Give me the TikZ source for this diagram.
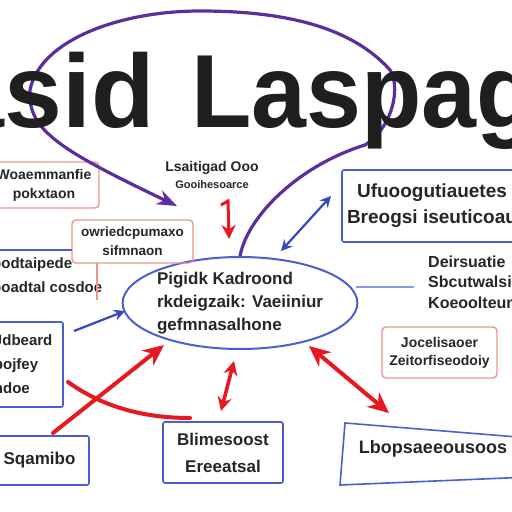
\documentclass[tikz,border=0pt]{standalone}
\usepackage{fontspec}
\setmainfont{Liberation Sans}
\usetikzlibrary{arrows.meta,shapes.geometric}
\definecolor{loopviolet}{HTML}{5B2D9E}
\definecolor{edgeblue}{HTML}{4A5FD4}
\definecolor{arrowblue}{HTML}{3448C0}
\definecolor{faintblue}{HTML}{8A98E6}
\definecolor{arrowred}{HTML}{E81820}
\definecolor{edgesalmon}{HTML}{E8968E}
\definecolor{inkgray}{HTML}{262626}
\newcommand{\gib}[2]{\fontsize{#1}{#2}\selectfont\bfseries}
\newcommand{\titlefont}{\fontsize{104}{104}\selectfont\bfseries}
\tikzset{
  smallred/.tip={Stealth[length=14pt,width=14pt]},
  bigred/.tip={Stealth[length=21pt,width=19pt]},
  bluehead/.tip={Stealth[length=11pt,width=11pt]},
  loophead/.tip={Stealth[length=20pt,width=15pt]},
}

\begin{document}
\begin{tikzpicture}[x=1pt,y=-1pt,
    bluebox/.style={draw=edgeblue, line width=1.6pt, rounded corners=2pt, inner sep=0pt, align=center, text=inkgray},
    redbox/.style={draw=edgesalmon, line width=1.4pt, rounded corners=4pt, inner sep=0pt, align=center, text=inkgray},
    plaintext/.style={inner sep=0pt, text=inkgray},
    redline/.style={draw=arrowred, line width=4pt},
    blueline/.style={draw=arrowblue, line width=2.2pt},
  ]
  \useasboundingbox (0,0) rectangle (512,512);
  \clip (0,0) rectangle (512,512);
  \fill[white] (0,0) rectangle (512,512);

  % centre and boxes
  \node[draw=edgeblue, line width=2pt, ellipse, minimum width=224pt, minimum height=92pt,
        inner sep=0pt, align=left, text=inkgray, font=\gib{17}{23}] (hub) at (240,303)
        {Pigidk Kadroond\\rkdeigzaik: Vaeiiniur\\gefmnasalhone};
  \node[redbox, minimum width=110pt, minimum height=46pt, font=\gib{14}{19}] (noteTL) at (44,185) {Woaemmanfie\\pokxtaon};
  \node[redbox, minimum width=121pt, minimum height=43pt, font=\gib{13.5}{19}] (noteMid) at (132.5,241.5) {owriedcpumaxo\\sifmnaon};
  \node[plaintext, anchor=north west, align=left, font=\gib{15}{24}] (leftTxt) at (-8,257) {podtaipede\\poadtal cosdoe};
  \draw[edgeblue, line width=1.6pt] (-5,250) -- (72,250);
  \draw[edgesalmon, line width=1.4pt] (97,263) -- (97,300);
  \node[bluebox, minimum width=73pt, minimum height=85pt, text width=65pt, align=left, font=\gib{15}{24}] (lowBox) at (26.5,364.5) {Jdbeard\\pojfey\\ndoe};
  \node[bluebox, minimum width=99pt, minimum height=49pt, font=\gib{17}{20}] (sqBox) at (39.5,460.5) {Sqamibo};
  \node[bluebox, minimum width=120pt, minimum height=61pt, font=\gib{17}{27}] (botMid) at (223,452.5) {Blimesoost\\Ereeatsal};
  \node[plaintext, font=\gib{18}{22}] (botRight) at (433,449) {Lbopsaeeousoos};
  \draw[edgeblue, line width=1.6pt] (530,438) -- (345,423) -- (340,485) -- (530,477);
  \node[redbox, minimum width=115pt, minimum height=51pt, font=\gib{14}{18}] (noteR) at (439.5,352.5) {Jocelisaoer\\Zeitorfiseodoiy};
  \node[bluebox, minimum width=180pt, minimum height=72pt, font=\gib{19}{26}] (topBox) at (432,206) {Ufuoogutiauetes\\Breogsi iseuticoau};
  \node[plaintext, anchor=north west, align=left, font=\gib{16}{20.5}] (rightTxt) at (428,255.5) {Deirsuatie\\Sbcutwalsi\\Koeoolteuno};
  \node[plaintext, align=center, font=\gib{14}{17}] (topTxt) at (212,175) {Lsaitigad Ooo\\{\fontsize{11}{17}\selectfont Gooihesoarce}};

  % purple loop behind the title
  \coordinate (loopEnd) at (177,206);
  \draw[loopviolet, line width=3.2pt, -loophead] (hub.north)
    .. controls (248,215) and (300,165) .. (365,145)
    .. controls (395,125) and (400,85) .. (390,70)
    .. controls (350,25) and (280,11) .. (200,11)
    .. controls (120,11) and (40,40) .. (30,90)
    .. controls (27,130) and (60,150) .. (loopEnd);

  % title
  \node[plaintext, text=black!88, anchor=base east, font=\titlefont] (titleA) at (155,127) {asid};
  \node[plaintext, text=black!88, anchor=base west, font=\titlefont] (titleB) at (191,127) {\scalebox{0.95}[1]{Laspag}};

  % connectors
  \coordinate (dropTop) at (221,205);
  \coordinate (dropBend) at (228,201);
  \coordinate (dropEnd) at (229,239);
  \draw[redline, line width=3pt, -smallred] (dropTop) -- (dropBend) -- (dropEnd);
  \coordinate (upA) at (281,251);
  \coordinate (upB) at (331,196);
  \draw[blueline, bluehead-bluehead] (upA) -- (upB);
  \coordinate (lowOut) at (74,331);
  \coordinate (hubIn) at (125,311);
  \draw[blueline, -bluehead] (lowOut) -- (hubIn);
  \coordinate (hubOut) at (356,287);
  \coordinate (txtIn) at (414,287);
  \draw[faintblue, line width=1.3pt] (hubOut) -- (txtIn);
  \coordinate (sqOut) at (53,433);
  \coordinate (hubLow) at (164,345);
  \draw[redline, line cap=round, -bigred] (sqOut) -- (hubLow);
  \coordinate (curveA) at (68,382);
  \coordinate (curveB) at (190,418);
  \draw[redline, line cap=round] (curveA) .. controls (100,405) and (140,418) .. (curveB);
  \coordinate (vertA) at (221,411);
  \coordinate (vertB) at (234,361);
  \draw[redline, line width=3.5pt, smallred-smallred] (vertA) -- (vertB);
  \coordinate (diagA) at (309,346);
  \coordinate (diagB) at (389,413);
  \draw[redline, bigred-bigred] (diagA) -- (diagB);
\end{tikzpicture}
\end{document}
